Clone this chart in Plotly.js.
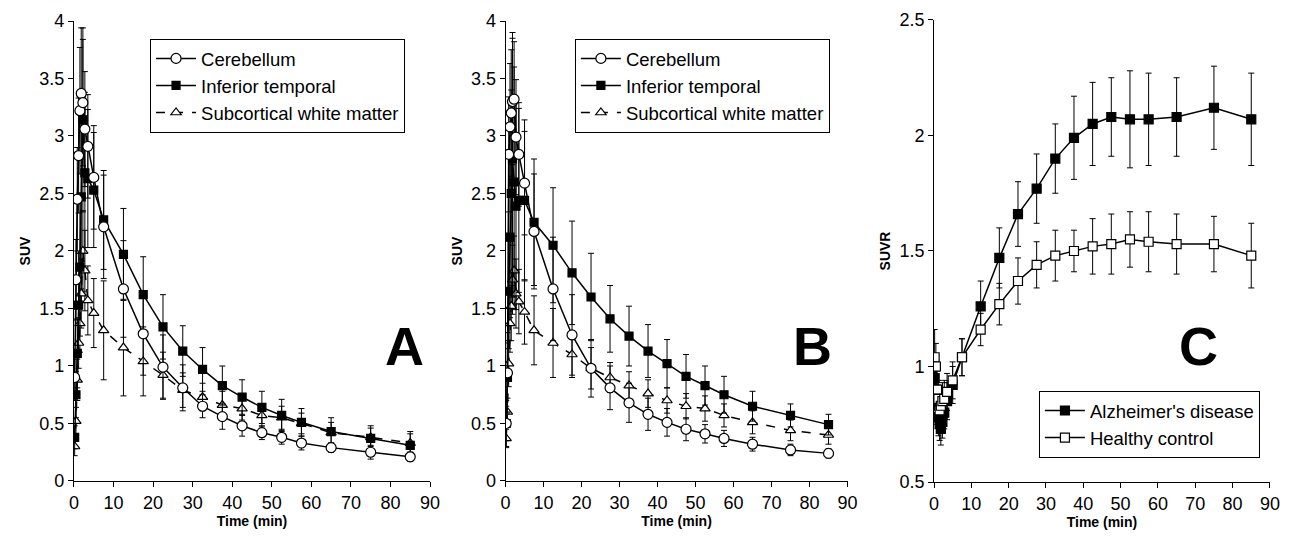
<!DOCTYPE html>
<html><head><meta charset="utf-8">
<script src="https://cdn.plot.ly/plotly-3.0.1.min.js"></script>
<style>html,body{margin:0;padding:0;background:#fff}#chart{width:1289px;height:540px}</style>
</head><body><div id="chart"></div>
<script>
// Time points (min)
const timeMin = [0.17, 0.5, 0.83, 1.17, 1.5, 1.83, 2.25, 2.75, 3.5, 5, 7.5, 12.5, 17.5, 22.5, 27.5, 32.5, 37.5, 42.5, 47.5, 52.5, 57.5, 65, 75, 85];

// Panel A (SUV)
const cerebA   = [0.9, 1.75, 2.45, 2.83, 3.22, 3.37, 3.29, 3.06, 2.91, 2.64, 2.21, 1.67, 1.28, 0.99, 0.81, 0.65, 0.56, 0.48, 0.42, 0.38, 0.33, 0.29, 0.25, 0.21];
const cerebAsd = [0.2, 0.35, 0.45, 0.5, 0.55, 0.57, 0.55, 0.5, 0.45, 0.45, 0.45, 0.42, 0.36, 0.28, 0.2, 0.1, 0.11, 0.09, 0.06, 0.06, 0.06, 0.04, 0.06, 0.04];
const itA      = [0.38, 0.75, 1.11, 1.53, 1.86, 2.47, 3.14, 2.68, 2.63, 2.53, 2.27, 1.97, 1.62, 1.34, 1.13, 0.97, 0.83, 0.73, 0.64, 0.57, 0.51, 0.43, 0.37, 0.31];
const itAsd    = [0.1, 0.2, 0.3, 0.45, 0.6, 0.8, 0.8, 0.7, 0.6, 0.5, 0.43, 0.4, 0.33, 0.28, 0.22, 0.19, 0.17, 0.15, 0.14, 0.14, 0.12, 0.12, 0.11, 0.12];
const wmA      = [0.3, 0.52, 0.88, 1.2, 1.37, 1.63, 2.0, 1.83, 1.57, 1.46, 1.31, 1.16, 1.04, 0.92, 0.79, 0.73, 0.66, 0.63, 0.57, 0.55, 0.50, 0.42, 0.38, 0.33];
const wmAsd    = [0.08, 0.12, 0.18, 0.22, 0.25, 0.3, 0.35, 0.35, 0.3, 0.3, 0.43, 0.42, 0.3, 0.2, 0.15, 0.12, 0.12, 0.1, 0.1, 0.1, 0.09, 0.09, 0.08, 0.08];

// Panel B (SUV)
const cerebB   = [0.5, 0.94, 2.84, 3.08, 3.2, 3.3, 3.32, 2.99, 2.84, 2.59, 2.17, 1.67, 1.27, 0.98, 0.81, 0.68, 0.58, 0.51, 0.45, 0.41, 0.37, 0.32, 0.27, 0.24];
const cerebBsd = [0.2, 0.35, 0.5, 0.55, 0.55, 0.55, 0.5, 0.5, 0.45, 0.45, 0.5, 0.45, 0.35, 0.25, 0.19, 0.17, 0.14, 0.12, 0.1, 0.08, 0.07, 0.06, 0.05, 0.04];
const itB      = [0.5, 0.9, 1.65, 2.12, 2.5, 2.8, 2.6, 2.39, 2.44, 2.44, 2.25, 2.05, 1.81, 1.6, 1.41, 1.26, 1.13, 1.02, 0.91, 0.83, 0.75, 0.65, 0.57, 0.49];
const itBsd    = [0.15, 0.3, 0.5, 0.7, 0.9, 1.1, 1.0, 0.9, 0.8, 0.7, 0.55, 0.5, 0.45, 0.38, 0.29, 0.26, 0.23, 0.21, 0.19, 0.17, 0.16, 0.13, 0.10, 0.09];
const wmB      = [0.37, 0.6, 1.02, 1.37, 1.52, 1.75, 1.83, 1.63, 1.56, 1.47, 1.31, 1.2, 1.1, 0.98, 0.9, 0.83, 0.76, 0.70, 0.65, 0.63, 0.57, 0.51, 0.44, 0.40];
const wmBsd    = [0.08, 0.12, 0.2, 0.25, 0.3, 0.3, 0.3, 0.3, 0.28, 0.28, 0.3, 0.3, 0.2, 0.18, 0.13, 0.12, 0.12, 0.11, 0.11, 0.11, 0.1, 0.1, 0.09, 0.08];

// Panel C (SUVR)
const adC   = [0.95, 0.9, 0.83, 0.78, 0.75, 0.73, 0.76, 0.8, 0.85, 0.92, 1.04, 1.26, 1.47, 1.66, 1.77, 1.90, 1.99, 2.05, 2.08, 2.07, 2.07, 2.08, 2.12, 2.07];
const adCsd = [0.1, 0.1, 0.08, 0.08, 0.07, 0.07, 0.07, 0.07, 0.08, 0.08, 0.08, 0.11, 0.13, 0.14, 0.15, 0.15, 0.18, 0.18, 0.17, 0.21, 0.2, 0.17, 0.18, 0.2];
const hcC   = [1.04, 1.0, 0.9, 0.86, 0.81, 0.83, 0.85, 0.86, 0.89, 0.94, 1.04, 1.16, 1.27, 1.37, 1.44, 1.48, 1.50, 1.52, 1.53, 1.55, 1.54, 1.53, 1.53, 1.48];
const hcCsd = [0.12, 0.1, 0.08, 0.08, 0.08, 0.08, 0.08, 0.08, 0.08, 0.08, 0.08, 0.07, 0.09, 0.1, 0.1, 0.11, 0.09, 0.12, 0.13, 0.12, 0.13, 0.13, 0.12, 0.14];

const regionNames = ["Cerebellum", "Inferior temporal", "Subcortical white matter"];
const groupNames = ["Alzheimer's disease", "Healthy control"];
const panelLetters = ["A", "B", "C"];

const FONT = "Liberation Sans, Arial, sans-serif";

function tr(name, y, sd, xa, ya, leg, sym, fill, dash, size) {
  return {
    x: timeMin, y: y, name: name, type: 'scatter', mode: 'lines+markers',
    xaxis: xa, yaxis: ya, legend: leg,
    line: {color: 'black', width: 1.5, dash: dash},
    marker: {symbol: sym, size: size, color: fill, line: {color: 'black', width: 1.2}},
    error_y: {type: 'data', array: sd, visible: true, color: 'black', thickness: 1, width: 3}
  };
}

const data = [
  tr(regionNames[2], wmA, wmAsd, 'x', 'y', 'legend', 'triangle-up', 'white', 'dash', 9),
  tr(regionNames[1], itA, itAsd, 'x', 'y', 'legend', 'square', 'black', 'solid', 8),
  tr(regionNames[0], cerebA, cerebAsd, 'x', 'y', 'legend', 'circle', 'white', 'solid', 10),
  tr(regionNames[2], wmB, wmBsd, 'x2', 'y2', 'legend2', 'triangle-up', 'white', 'dash', 9),
  tr(regionNames[1], itB, itBsd, 'x2', 'y2', 'legend2', 'square', 'black', 'solid', 8),
  tr(regionNames[0], cerebB, cerebBsd, 'x2', 'y2', 'legend2', 'circle', 'white', 'solid', 10),
  tr(groupNames[0], adC, adCsd, 'x3', 'y3', 'legend3', 'square', 'black', 'solid', 9),
  tr(groupNames[1], hcC, hcCsd, 'x3', 'y3', 'legend3', 'square', 'white', 'solid', 9)
];

function xax(domain, anchor) {
  return {domain: domain, anchor: anchor, range: [0, 90], dtick: 10, tick0: 0,
    showline: true, linecolor: 'black', linewidth: 1, ticks: 'outside', ticklen: 5, tickcolor: 'black',
    showgrid: false, zeroline: false, tickfont: {family: FONT, size: 18, color: 'black'},
    title: {text: '<b>Time (min)</b>', font: {family: FONT, size: 14, color: 'black'}, standoff: 3}};
}
function yax(domain, anchor, range, title) {
  return {domain: domain, anchor: anchor, range: range, dtick: 0.5,
    showline: true, linecolor: 'black', linewidth: 1, ticks: 'outside', ticklen: 5, tickcolor: 'black',
    showgrid: false, zeroline: false, tickfont: {family: FONT, size: 18, color: 'black'},
    title: {text: '<b>' + title + '</b>', font: {family: FONT, size: 14, color: 'black'}, standoff: 5}};
}
function leg(x, y) {
  return {x: x, y: y, xanchor: 'left', yanchor: 'top', bgcolor: 'white', bordercolor: 'black', borderwidth: 1,
    font: {family: FONT, size: 18.5, color: 'black'}, traceorder: 'reversed', tracegroupgap: 0,
    itemwidth: 40, itemsizing: 'trace'};
}
function letter(t, x) {
  return {text: '<b>' + t + '</b>', xref: 'paper', yref: 'paper', x: x, y: 0.36, showarrow: false,
    font: {family: FONT, size: 54, color: 'black'}};
}

const layout = {
  width: 1289, height: 540, paper_bgcolor: 'white', plot_bgcolor: 'white',
  margin: {l: 0, r: 0, t: 0, b: 0},
  showlegend: true,
  xaxis: xax([0.0574, 0.3336], 'y'),
  yaxis: yax([0.1093, 0.9611], 'x', [0, 4], 'SUV'),
  xaxis2: xax([0.3922, 0.6575], 'y2'),
  yaxis2: yax([0.1093, 0.9611], 'x2', [0, 4], 'SUV'),
  xaxis3: xax([0.7246, 0.9852], 'y3'),
  yaxis3: yax([0.1074, 0.963], 'x3', [0.5, 2.5], 'SUVR'),
  legend: leg(0.1164, 0.928),
  legend2: leg(0.446, 0.928),
  legend3: Object.assign(leg(0.806, 0.276), {traceorder: 'normal'}),
  annotations: [letter(panelLetters[0], 0.2975), letter(panelLetters[1], 0.63), letter(panelLetters[2], 0.9468)]
};

Plotly.newPlot('chart', data, layout, {displayModeBar: false, staticPlot: true});
</script></body></html>
